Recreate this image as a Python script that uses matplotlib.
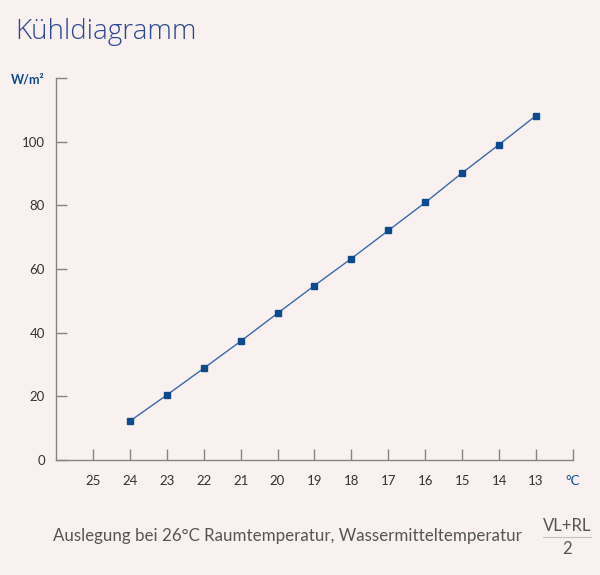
import matplotlib
matplotlib.use("Agg")
import matplotlib.pyplot as plt

# Vorlauf/Rücklauf-Mitteltemperatur (°C) und Kühlleistung (W/m²)
temperatur = [24, 23, 22, 21, 20, 19, 18, 17, 16, 15, 14, 13]
leistung = [12.2, 20.4, 28.8, 37.3, 46.1, 54.8, 63.3, 72.1, 80.9, 90.2, 99.1, 108.2]

x_ticks = list(range(25, 11, -1))
x_labels = [str(t) for t in range(25, 12, -1)] + ["°C"]
y_ticks = [0, 20, 40, 60, 80, 100, 120]
y_labels = ["0", "20", "40", "60", "80", "100", "W/m²"]

bg = "#f9f1ef"
blau = "#0d4a8c"
achse = "#8a8282"
grau = "#555555"

plt.rcParams['font.family'] = ['Lato', 'DejaVu Sans']

fig = plt.figure(figsize=(6, 5.75), dpi=100, facecolor=bg)
ax = fig.add_axes([0.0933, 0.2, 0.8617, 0.6643], facecolor=bg)

ax.plot(temperatur, leistung, '-', color="#3a6aa8", linewidth=1.0, zorder=2)
ax.plot(temperatur, leistung, 's', color=blau, markersize=5, zorder=3)

ax.set_xlim(26, 12)
ax.set_ylim(0, 120)
ax.set_xticks(x_ticks)
ax.set_xticklabels(x_labels)
ax.set_yticks(y_ticks)
ax.set_yticklabels(y_labels)

for s in ['top', 'right']:
    ax.spines[s].set_visible(False)
for s in ['left', 'bottom']:
    ax.spines[s].set_color(achse)
    ax.spines[s].set_linewidth(1.0)

ax.tick_params(axis='both', direction='in', length=8, width=1, color=achse,
               labelsize=9.5, labelcolor="#333333")
ax.tick_params(axis='x', pad=11)
ax.tick_params(axis='y', pad=8)

# Einheiten in blau
ax.get_xticklabels()[-1].set_color(blau)
ax.get_yticklabels()[-1].set_color(blau)
ax.get_yticklabels()[-1].set_fontweight('bold')
ax.get_yticklabels()[-1].set_fontsize(9)

fig.text(0.025, 0.945, "Kühldiagramm", fontsize=20, color="#2e4894",
         family=['Open Sans', 'DejaVu Sans'], fontweight='light',
         ha='left', va='center')

fig.text(0.87, 0.068, "Auslegung bei 26°C Raumtemperatur, Wassermitteltemperatur",
         fontsize=12.2, color=grau, ha='right', va='center')
fig.text(0.945, 0.086, "VL+RL", fontsize=12, color=grau, ha='center', va='center')
fig.text(0.945, 0.045, "2", fontsize=12, color=grau, ha='center', va='center')
fig.add_artist(plt.Line2D([0.905, 0.985], [0.0665, 0.0665], color="#c8c0c0", linewidth=0.8))

fig.savefig("out.png", dpi=100, facecolor=bg)
